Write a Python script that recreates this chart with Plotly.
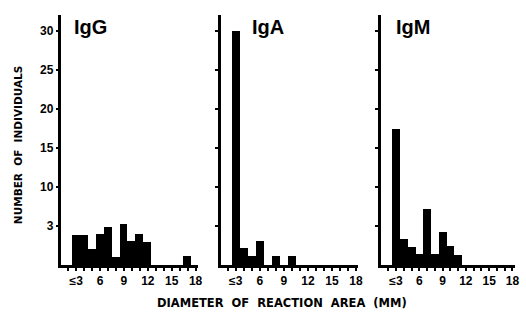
import plotly.graph_objects as go

# bin centres (mm), first bin is "<=3"
bins = list(range(3, 18))
igg = [3.8, 3.8, 2.0, 3.9, 4.9, 1.0, 5.2, 3.1, 4.0, 2.9, 0, 0, 0, 0, 1.1]
iga = [30.0, 2.1, 1.15, 3.1, 0, 1.15, 0, 1.15, 0, 0, 0, 0, 0, 0, 0]
igm = [17.4, 3.3, 2.35, 1.4, 7.2, 1.4, 4.2, 2.4, 1.3, 0, 0, 0, 0, 0, 0]
panels = ["IgG", "IgA", "IgM"]
series = [igg, iga, igm]

x_tickvals = [3, 6, 9, 12, 15, 18]
x_ticktext = ["≤3", "6", "9", "12", "15", "18"]
y_tickvals = [5, 10, 15, 20, 25, 30]
y_ticktext = ["3", "10", "15", "20", "25", "30"]

FONT = "Liberation Sans"
fig = go.Figure()
domains = [[0.118, 0.380], [0.424, 0.688], [0.731, 0.988]]
xranges = [[1.15, 18.3], [1.15, 18.3], [1.05, 18.3]]
title_x = [0.08, 0.21, 0.10]
ydom = [0.177, 0.953]

for i, (name, vals) in enumerate(zip(panels, series)):
    xa = "x" if i == 0 else f"x{i+1}"
    ya = "y" if i == 0 else f"y{i+1}"
    fig.add_trace(go.Bar(x=bins, y=vals, width=1, marker=dict(color="black", line=dict(width=0)),
                         xaxis=xa, yaxis=ya, showlegend=False))
    xkey = "xaxis" if i == 0 else f"xaxis{i+1}"
    ykey = "yaxis" if i == 0 else f"yaxis{i+1}"
    fig.layout[xkey] = dict(domain=domains[i], anchor=ya, range=xranges[i],
                            tickvals=x_tickvals, ticktext=x_ticktext,
                            ticks="outside", ticklen=3, tickwidth=1.5, tickcolor="black",
                            minor=dict(dtick=1, tick0=0, ticks="outside", ticklen=3, tickwidth=1.5, tickcolor="black"),
                            showline=True, linecolor="black", linewidth=2.5,
                            showgrid=False, zeroline=False,
                            tickfont=dict(family=FONT, size=12, color="black", weight="bold"))
    fig.layout[ykey] = dict(domain=ydom, anchor=xa, range=[0, 32],
                            tickvals=y_tickvals, ticktext=y_ticktext if i == 0 else [""] * 6,
                            ticks="outside", ticklen=3, tickwidth=1.5, tickcolor="black",
                            showline=True, linecolor="black", linewidth=2.5,
                            showgrid=False, zeroline=False,
                            tickfont=dict(family=FONT, size=12, color="black", weight="bold"))
    fig.add_annotation(text=name, xref=f"{xa} domain", yref="paper", x=title_x[i], y=0.958,
                       xanchor="left", yanchor="top", showarrow=False,
                       font=dict(family=FONT, size=20, color="black", weight="bold"))

fig.add_annotation(text="NUMBER  OF  INDIVIDUALS", xref="paper", yref="paper", x=0.035, y=0.55,
                   textangle=-90, showarrow=False, xanchor="center", yanchor="middle",
                   font=dict(family="DejaVu Sans", size=10.5, color="black", weight="bold"))
fig.add_annotation(text="DIAMETER  OF  REACTION  AREA  (MM)", xref="paper", yref="paper", x=0.542, y=0.058,
                   showarrow=False, xanchor="center", yanchor="middle",
                   font=dict(family="DejaVu Sans", size=11.5, color="black", weight="bold"))

fig.update_layout(width=526, height=322, margin=dict(l=0, r=0, t=0, b=0),
                  paper_bgcolor="white", plot_bgcolor="white", bargap=0)
fig.write_html("out.html")
